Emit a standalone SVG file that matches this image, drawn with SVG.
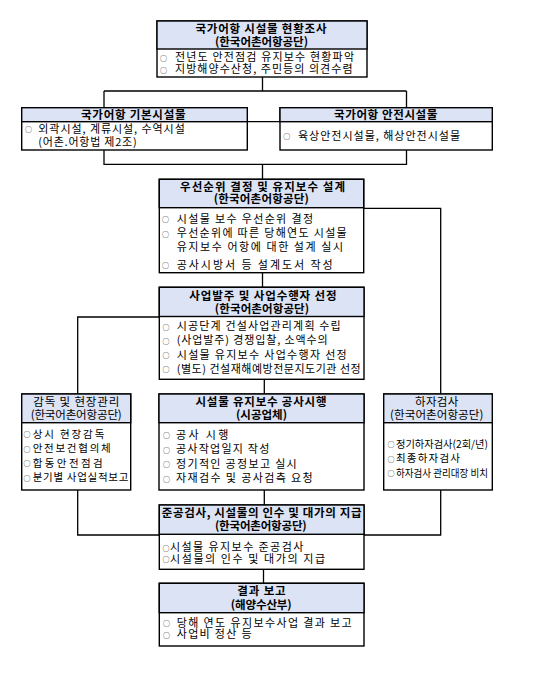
<svg xmlns="http://www.w3.org/2000/svg" width="535" height="676" viewBox="0 0 535 676">
<style>
.bg{fill:#ffffff}
.box{fill:#ffffff;stroke:#000;stroke-width:1.4}
.hdr{fill:#dbe3f4;stroke:#000;stroke-width:1.4}
.ln{fill:none;stroke:#000;stroke-width:1.3}
text{font-family:"Noto Sans CJK KR","Noto Sans",sans-serif;fill:#000}
.h{font-size:11.5px;font-weight:bold;text-anchor:middle}
.h2{font-size:11.5px;font-weight:normal;text-anchor:middle}
.b{font-size:11px}
.s{font-size:10.5px}
.o{font-size:7px}
</style>
<rect class="bg" x="0" y="0" width="535" height="676"/>
<g id="connectors">
<path class="ln" d="M262.5 77 V91 M104 91 H406.5 M104 91 V107.7 M406.5 91 V107.7"/>
<path class="ln" d="M247.3 121.7 H280"/>
<path class="ln" d="M104 150 V164.3 H406.5 V150 M262.5 164.3 V179.3"/>
<path class="ln" d="M363.7 208.3 H440.7 V394"/>
<path class="ln" d="M262.5 272.7 V287.3"/>
<path class="ln" d="M159.3 317 H77.7 V394"/>
<path class="ln" d="M264.3 379.3 V394"/>
<path class="ln" d="M77.7 490 V535 H159.3 M440.7 490 V535 H364"/>
<path class="ln" d="M264.3 490 V505"/>
<path class="ln" d="M263.5 569.3 V583.3"/>
</g>
<g id="n1">
<rect class="box" x="157" y="21" width="210" height="56"/>
<rect class="hdr" x="157" y="21" width="210" height="28"/>
<text class="h"><tspan x="261" y="33" textLength="131">국가어항 시설물 현황조사</tspan><tspan x="261.5" y="45.5" textLength="93">(한국어촌어항공단)</tspan></text>
<text class="b"><tspan class="o" x="160" y="60.5">○</tspan><tspan x="175" y="61" textLength="179">전년도 안전점검 유지보수 현황파악</tspan><tspan class="o" x="160" y="72.5">○</tspan><tspan x="175" y="73" textLength="177.5">지방해양수산청, 주민등의 의견수렴</tspan></text>
</g>
<g id="n2">
<rect class="box" x="21.7" y="107.7" width="225.6" height="42.3"/>
<rect class="hdr" x="21.7" y="107.7" width="225.6" height="14"/>
<text class="h"><tspan x="133.3" y="118.8" textLength="104.5">국가어항 기본시설물</tspan></text>
<text class="b"><tspan class="o" x="25" y="132.2">○</tspan><tspan x="38.3" y="132.7" textLength="146.5">외곽시설, 계류시설, 수역시설</tspan><tspan x="38.3" y="145.5" textLength="98.4">(어촌.어항법 제2조)</tspan></text>
</g>
<g id="n3">
<rect class="box" x="280" y="107.7" width="212.3" height="42.3"/>
<rect class="hdr" x="280" y="107.7" width="212.3" height="14"/>
<text class="h"><tspan x="385.7" y="118.8" textLength="103.3">국가어항 안전시설물</tspan></text>
<text class="b"><tspan class="o" x="283.3" y="139">○</tspan><tspan x="298" y="139.5" textLength="162">육상안전시설물, 해상안전시설물</tspan></text>
</g>
<g id="n4">
<rect class="box" x="159.3" y="179.3" width="204.4" height="93.4"/>
<rect class="hdr" x="159.3" y="179.3" width="204.4" height="28.4"/>
<text class="h"><tspan x="262.5" y="190.5" textLength="165">우선순위 결정 및 유지보수 설계</tspan><tspan x="261.3" y="203" textLength="95">(한국어촌어항공단)</tspan></text>
<text class="b"><tspan class="o" x="162" y="222">○</tspan><tspan x="176.7" y="222.5" textLength="136.3">시설물 보수 우선순위 결정</tspan><tspan class="o" x="162" y="236.5">○</tspan><tspan x="176.7" y="237" textLength="170">우선순위에 따른 당해연도 시설물</tspan><tspan x="176.7" y="251" textLength="166.3">유지보수 어항에 대한 설계 실시</tspan><tspan class="o" x="162" y="268">○</tspan><tspan x="176.7" y="268.5" textLength="156">공사시방서 등 설계도서 작성</tspan></text>
</g>
<g id="n5">
<rect class="box" x="159.3" y="287.3" width="204.7" height="92"/>
<rect class="hdr" x="159.3" y="287.3" width="204.7" height="29.2"/>
<text class="h"><tspan x="263" y="300" textLength="147.3">사업발주 및 사업수행자 선정</tspan><tspan x="262" y="312.5" textLength="94.3">(한국어촌어항공단)</tspan></text>
<text class="b"><tspan class="o" x="162.5" y="329.5">○</tspan><tspan x="176.7" y="330" textLength="164">시공단계 건설사업관리계획 수립</tspan><tspan class="o" x="162.5" y="343.5">○</tspan><tspan x="176.7" y="344" textLength="151">(사업발주) 경쟁입찰, 소액수의</tspan><tspan class="o" x="162.5" y="358">○</tspan><tspan x="176.7" y="358.5" textLength="170">시설물 유지보수 사업수행자 선정</tspan><tspan class="o" x="162.5" y="372">○</tspan><tspan x="176.7" y="372.5" textLength="184">(별도) 건설재해예방전문지도기관 선정</tspan></text>
</g>
<g id="n6">
<rect class="box" x="21.7" y="394" width="109" height="96"/>
<rect class="hdr" x="21.7" y="394" width="109" height="28.7"/>
<text class="h2"><tspan x="76.3" y="406" textLength="86">감독 및 현장관리</tspan><tspan x="76.2" y="418.5" textLength="91">(한국어촌어항공단)</tspan></text>
<text class="s"><tspan class="o" x="23.5" y="437">○</tspan><tspan x="32.7" y="437.5" textLength="71.6">상시 현장감독</tspan><tspan class="o" x="23.5" y="451.5">○</tspan><tspan x="32.7" y="452" textLength="78">안전보건협의체</tspan><tspan class="o" x="23.5" y="466">○</tspan><tspan x="32.7" y="466.5" textLength="70">합동안전점검</tspan><tspan class="o" x="23.5" y="480.5">○</tspan><tspan x="32.7" y="481" textLength="95.6">분기별 사업실적보고</tspan></text>
</g>
<g id="n7">
<rect class="box" x="159" y="394" width="205" height="96"/>
<rect class="hdr" x="159" y="394" width="205" height="28.7"/>
<text class="h"><tspan x="261" y="406" textLength="131">시설물 유지보수 공사시행</tspan><tspan x="261.5" y="418.5">(시공업체)</tspan></text>
<text class="b"><tspan class="o" x="163" y="438">○</tspan><tspan x="176" y="438.5" textLength="52.3">공사 시행</tspan><tspan class="o" x="163" y="452.5">○</tspan><tspan x="176" y="453" textLength="93.3">공사작업일지 작성</tspan><tspan class="o" x="163" y="467">○</tspan><tspan x="176" y="467.5" textLength="120.7">정기적인 공정보고 실시</tspan><tspan class="o" x="163" y="481.5">○</tspan><tspan x="176" y="482" textLength="136.7">자재검수 및 공사검측 요청</tspan></text>
</g>
<g id="n8">
<rect class="box" x="383.7" y="394" width="108.6" height="96"/>
<rect class="hdr" x="383.7" y="394" width="108.6" height="28.7"/>
<text class="h2"><tspan x="436.7" y="406" textLength="43.3">하자검사</tspan><tspan x="436.7" y="418.5" textLength="93.3">(한국어촌어항공단)</tspan></text>
<text class="s"><tspan class="o" x="387.5" y="447">○</tspan><tspan x="396" y="447.5" textLength="92" lengthAdjust="spacingAndGlyphs">정기하자검사(2회/년)</tspan><tspan class="o" x="387.5" y="461.5">○</tspan><tspan x="396" y="462" textLength="64">최종하자검사</tspan><tspan class="o" x="387.5" y="476">○</tspan><tspan x="396" y="476.5" textLength="92" lengthAdjust="spacingAndGlyphs">하자검사 관리대장 비치</tspan></text>
</g>
<g id="n9">
<rect class="box" x="159.3" y="505" width="204.7" height="64.3"/>
<rect class="hdr" x="159.3" y="505" width="204.7" height="29.3"/>
<text class="h"><tspan x="261.7" y="517" textLength="200">준공검사, 시설물의 인수 및 대가의 지급</tspan><tspan x="260.8" y="529.5" textLength="91.7">(한국어촌어항공단)</tspan></text>
<text class="b"><tspan class="o" x="162.5" y="550.5">○</tspan><tspan x="170" y="551" textLength="133.3">시설물 유지보수 준공검사</tspan><tspan class="o" x="162.5" y="562">○</tspan><tspan x="170" y="562.5" textLength="155">시설물의 인수 및 대가의 지급</tspan></text>
</g>
<g id="n10">
<rect class="box" x="159.3" y="583.3" width="204.7" height="62.7"/>
<rect class="hdr" x="159.3" y="583.3" width="204.7" height="29.4"/>
<text class="h"><tspan x="261.5" y="595" textLength="48.3">결과 보고</tspan><tspan x="261.2" y="608.5" textLength="61">(해양수산부)</tspan></text>
<text class="b"><tspan class="o" x="163" y="626">○</tspan><tspan x="176.7" y="626.5" textLength="175">당해 연도 유지보수사업 결과 보고</tspan><tspan class="o" x="163" y="637.5">○</tspan><tspan x="176.7" y="638" textLength="75">사업비 정산 등</tspan></text>
</g>
</svg>
